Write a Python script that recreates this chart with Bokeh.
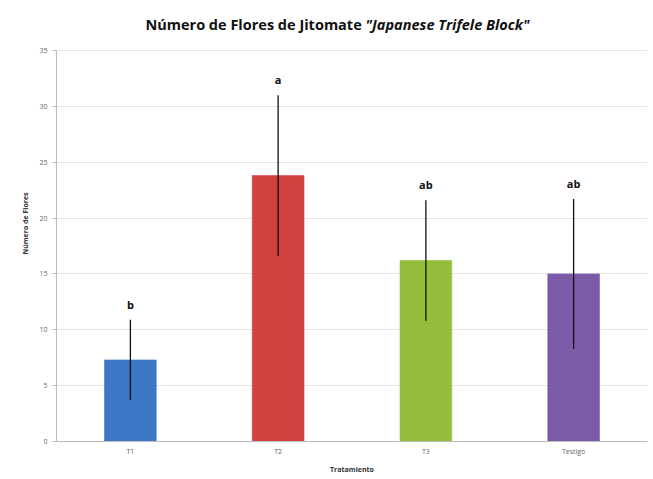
from bokeh.plotting import figure
from bokeh.models import ColumnDataSource, Label, FixedTicker
from bokeh.core.properties import value
from bokeh.embed import file_html
from bokeh.resources import INLINE

categories = ["T1", "T2", "T3", "Testigo"]
means = [7.3, 23.8, 16.2, 15.0]
errors = [3.6, 7.2, 5.4, 6.7]
letters = ["b", "a", "ab", "ab"]
colors = ["#3E77C5", "#D0413F", "#94BD3B", "#7B5BA8"]
y_ticks = [0, 5, 10, 15, 20, 25, 30, 35]
y_max = 35

src = ColumnDataSource(dict(
    cat=categories, mean=means,
    lo=[m - e for m, e in zip(means, errors)],
    hi=[m + e for m, e in zip(means, errors)],
    letter=letters, color=colors,
))

FONT = "Open Sans"

# frame: 5..441 px tall (436 px); 35 units at 391 px -> headroom for the title
p = figure(x_range=categories, y_range=(0, y_max * 436 / 391), width=653, height=479,
           output_backend="svg", toolbar_location=None,
           min_border_left=56, min_border_right=6, min_border_top=5, min_border_bottom=38)
p.x_range.range_padding = 0
p.outline_line_color = None
p.background_fill_color = "white"
p.border_fill_color = "white"

p.vbar(x="cat", top="mean", bottom=0, width=0.35, source=src,
       fill_color="color", line_color="color", line_alpha=0.6)
p.segment(x0="cat", y0="lo", x1="cat", y1="hi", source=src,
          line_color="#111111", line_width=1.3)
p.text(x="cat", y="hi", text="letter", source=src, text_align="center",
       text_baseline="bottom", y_offset=-8, text_font=value(FONT),
       text_font_size="11px", text_font_style="bold", text_color="#111111")

p.yaxis.ticker = FixedTicker(ticks=y_ticks)
p.yaxis.bounds = (0, y_max)
p.yaxis.axis_label = "Número de Flores"
p.xaxis.axis_label = "Tratamiento"
for ax in (p.xaxis, p.yaxis):
    ax.axis_label_text_font = FONT
    ax.axis_label_text_font_size = "7px"
    ax.axis_label_text_font_style = "bold"
    ax.axis_label_text_color = "#333333"
    ax.major_label_text_font = FONT
    ax.major_label_text_font_size = "7px"
    ax.major_label_text_color = "#666666"
    ax.axis_line_color = "#BBBBBB"
    ax.major_tick_line_color = "#BBBBBB"
    ax.minor_tick_line_color = None
p.yaxis.major_tick_out = 4
p.yaxis.major_tick_in = 0
p.xaxis.major_tick_out = 0
p.xaxis.major_tick_in = 0
p.yaxis.axis_label_standoff = 6
p.xaxis.axis_label_standoff = 6
p.xgrid.grid_line_color = None
p.ygrid.grid_line_color = "#E4E4E4"

# screen units are relative to the plot frame's bottom-left corner
TX = 365 - 56
TY = 441 - 33
p.add_layout(Label(x=TX, y=TY, x_units="screen", y_units="screen",
                   text="Número de Flores de Jitomate ", text_align="right",
                   text_font=FONT, text_font_size="14.5px", text_font_style="bold",
                   text_color="#111111"))
p.add_layout(Label(x=TX, y=TY, x_units="screen", y_units="screen",
                   text="\"Japanese Trifele Block\"", text_align="left",
                   text_font=FONT, text_font_size="14.5px", text_font_style="bold italic",
                   text_color="#111111"))

open("out.html", "w").write(file_html(p, INLINE))
